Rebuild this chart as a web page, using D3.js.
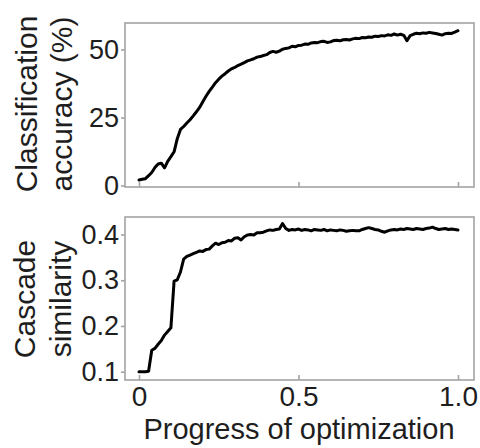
<!DOCTYPE html>
<html>
<head>
<meta charset="utf-8">
<script src="https://cdn.jsdelivr.net/npm/d3@7/dist/d3.min.js"></script>
<style>
  html, body { margin: 0; padding: 0; background: #fff; }
  svg { display: block; }
  text { font-family: "Liberation Sans", Arial, sans-serif; fill: #1e1e1e; }
</style>
</head>
<body>
<svg id="chart" width="480" height="448"></svg>
<script>
// Classification accuracy (%) over the course of the optimization, sampled every 1%
const accuracy = [
  2.0, 2.3, 2.5, 3.6, 4.8, 6.6, 7.9, 8.2, 6.5, 8.9,
  10.6, 12.4, 17.2, 20.6, 21.7, 23.0, 24.2, 25.6, 27.1, 28.7,
  30.8, 32.8, 34.6, 36.2, 37.8, 39.1, 40.2, 41.1, 42.1, 42.9,
  43.4, 44.1, 44.6, 45.2, 45.8, 46.2, 46.6, 47.2, 47.4, 47.8,
  48.1, 48.9, 49.3, 49.0, 49.4, 50.1, 50.4, 50.6, 51.2, 51.0,
  51.5, 51.6, 52.0, 51.9, 52.4, 52.6, 52.5, 52.9, 53.0, 52.6,
  52.8, 53.3, 53.4, 53.2, 53.6, 53.7, 53.5, 53.9, 54.1, 54.0,
  54.4, 54.3, 54.6, 54.5, 54.9, 54.8, 55.1, 55.0, 55.4, 55.2,
  55.7, 55.3, 55.6, 55.2, 53.2, 55.1, 55.6, 56.0, 55.8, 56.1,
  56.0, 56.3, 56.1, 55.9, 55.6, 55.3, 55.8, 56.0, 55.9, 56.4,
  56.9
];

// Cascade similarity over the same samples
const similarity = [
  0.100, 0.100, 0.100, 0.101, 0.147, 0.151, 0.160, 0.168, 0.180, 0.188,
  0.196, 0.298, 0.301, 0.318, 0.346, 0.352, 0.355, 0.358, 0.361, 0.364,
  0.363, 0.367, 0.368, 0.375, 0.381, 0.378, 0.382, 0.383, 0.387, 0.386,
  0.392, 0.393, 0.388, 0.395, 0.399, 0.400, 0.399, 0.404, 0.404, 0.405,
  0.408, 0.410, 0.409, 0.411, 0.412, 0.424, 0.413, 0.409, 0.411, 0.410,
  0.412, 0.409, 0.411, 0.410, 0.408, 0.411, 0.410, 0.409, 0.411, 0.408,
  0.410, 0.409, 0.408, 0.410, 0.409, 0.407, 0.408, 0.409, 0.408, 0.408,
  0.411, 0.413, 0.415, 0.413, 0.411, 0.410, 0.407, 0.405, 0.408, 0.410,
  0.411, 0.410, 0.412, 0.411, 0.413, 0.412, 0.411, 0.413, 0.412, 0.411,
  0.413, 0.414, 0.416, 0.413, 0.411, 0.412, 0.413, 0.411, 0.412, 0.411,
  0.410
];

const xTicks = [0, 0.5, 1.0];
const xTickLabels = ["0", "0.5", "1.0"];
const accTicks = [0, 25, 50];
const simTicks = [0.1, 0.2, 0.3, 0.4];
const simTickLabels = ["0.1", "0.2", "0.3", "0.4"];

const svg = d3.select("#chart");

// Panel frames
const frameLeft = 125, frameRight = 474;
const topPanel = { top: 23, bottom: 187 };
const botPanel = { top: 217, bottom: 380 };

const x = d3.scaleLinear().domain([0, 1]).range([139, 458]);
const yAcc = d3.scaleLinear().domain([0, 50]).range([185.5, 49.5]);
const ySim = d3.scaleLinear().domain([0.1, 0.4]).range([371.7, 234.5]);

const progress = i => i / (accuracy.length - 1);

function frame(p) {
  svg.append("rect")
    .attr("x", frameLeft).attr("y", p.top)
    .attr("width", frameRight - frameLeft)
    .attr("height", p.bottom - p.top)
    .attr("fill", "none")
    .attr("stroke", "#a3a3a3")
    .attr("stroke-width", 1.6);
}

function styleAxis(g, size) {
  g.select(".domain").remove();
  g.selectAll(".tick line").attr("stroke", "#a3a3a3").attr("stroke-width", 1.6);
  g.selectAll(".tick text")
    .attr("fill", "#1e1e1e")
    .style("font-size", size + "px")
    .style("font-family", "'Liberation Sans', Arial, sans-serif");
}

frame(topPanel);
frame(botPanel);

// Top panel axes
svg.append("g")
  .attr("transform", `translate(${frameLeft},0)`)
  .call(d3.axisLeft(yAcc).tickValues(accTicks).tickSize(4).tickPadding(2))
  .call(g => styleAxis(g, 27));

svg.append("g")
  .attr("transform", `translate(0,${topPanel.bottom})`)
  .call(d3.axisBottom(x).tickValues(xTicks).tickSize(-5).tickFormat(""))
  .call(g => styleAxis(g, 27));

// Bottom panel axes
svg.append("g")
  .attr("transform", `translate(${frameLeft},0)`)
  .call(d3.axisLeft(ySim).tickValues(simTicks).tickSize(4).tickPadding(2)
    .tickFormat((d, i) => simTickLabels[i]))
  .call(g => styleAxis(g, 27));

svg.append("g")
  .attr("transform", `translate(0,${botPanel.bottom})`)
  .call(d3.axisBottom(x).tickValues(xTicks).tickSize(-5).tickPadding(6)
    .tickFormat((d, i) => xTickLabels[i]))
  .call(g => styleAxis(g, 28));

// Curves
const accLine = d3.line().x((d, i) => x(progress(i))).y(d => yAcc(d));
const simLine = d3.line().x((d, i) => x(progress(i))).y(d => ySim(d));

svg.append("path")
  .datum(accuracy)
  .attr("d", accLine)
  .attr("fill", "none")
  .attr("stroke", "#000")
  .attr("stroke-width", 3)
  .attr("stroke-linejoin", "round")
  .attr("stroke-linecap", "round");

svg.append("path")
  .datum(similarity)
  .attr("d", simLine)
  .attr("fill", "none")
  .attr("stroke", "#000")
  .attr("stroke-width", 3)
  .attr("stroke-linejoin", "round")
  .attr("stroke-linecap", "round");

// Axis titles
function yTitle(lines, cy, xs) {
  lines.forEach((t, i) => {
    svg.append("text")
      .attr("transform", `translate(${xs[i]},${cy}) rotate(-90)`)
      .attr("text-anchor", "middle")
      .style("font-size", "30px")
      .text(t);
  });
}
yTitle(["Classification", "accuracy (%)"], 104, [37, 72]);
yTitle(["Cascade", "similarity"], 299, [35, 71]);

svg.append("text")
  .attr("x", 299).attr("y", 439)
  .attr("text-anchor", "middle")
  .style("font-size", "29px")
  .text("Progress of optimization");
</script>
</body>
</html>
